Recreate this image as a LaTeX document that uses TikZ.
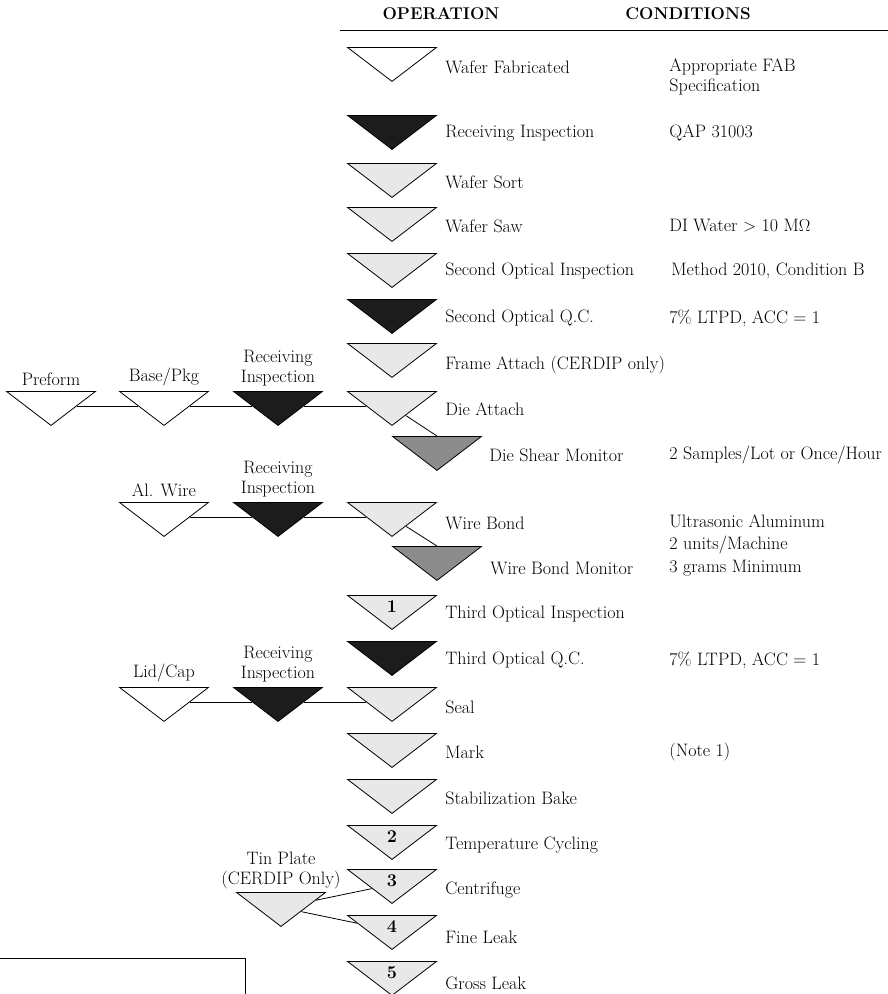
\documentclass[tikz,border=0pt]{standalone}
\usepackage{tikz}
\usetikzlibrary{positioning, shapes.geometric}
\definecolor{stipple}{HTML}{E8E8E8}
\definecolor{shear}{HTML}{8C8C8C}
\definecolor{ink}{HTML}{1C1C1C}

\begin{document}
\begin{tikzpicture}[x=1pt, y=-1pt, line width=0.8pt,
    font=\fontsize{18}{22.5}\selectfont,
    tri/.style={draw, isosceles triangle, shape border rotate=270, isosceles triangle stretches,
        minimum width=89pt, minimum height=34pt, inner sep=0pt, anchor=lower side},
    wtri/.style={tri, fill=white},
    ltri/.style={tri, fill=stipple},
    dtri/.style={tri, fill=ink},
    mtri/.style={tri, fill=shear},
    op/.style={anchor=west, align=left, inner sep=0pt},
    cond/.style={anchor=west, align=left, inner sep=0pt},
    head/.style={font=\fontsize{17}{21}\selectfont\bfseries, inner sep=0pt},
    side/.style={align=center, inner sep=0pt, font=\fontsize{18}{20}\selectfont},
    num/.style={font=\fontsize{18}{21}\selectfont\bfseries, inner sep=0pt}]
\useasboundingbox (0,0) rectangle (888,994);

% Header
\node[head] (ophead) at (441,14) {OPERATION};
\node[head] (cdhead) at (688,14) {CONDITIONS};
\coordinate (hl) at (340,30);
\coordinate (hr) at (888,30);
\draw (hl) -- (hr);

% Main column
\node[wtri] (wf) at (392,47) {};
\node[dtri] (ri) at (392,115) {};
\node[ltri] (ws) at (392,163) {};
\node[ltri] (wsaw) at (392,207) {};
\node[ltri] (soi) at (392,253) {};
\node[dtri] (soq) at (392,299) {};
\node[ltri] (fa) at (392,343) {};
\node[ltri] (da) at (392,391) {};
\node[mtri] (dsm) at (437,436) {};
\node[ltri] (wb) at (392,502) {};
\node[mtri] (wbm) at (437,546) {};
\node[ltri] (toi) at (392,595) {};
\node[dtri] (toq) at (392,641) {};
\node[ltri] (seal) at (392,687) {};
\node[ltri] (mark) at (392,733) {};
\node[ltri] (sb) at (392,779) {};
\node[ltri] (tc) at (392,825) {};
\node[ltri] (cf) at (392,869) {};
\node[ltri] (fl) at (392,915) {};
\node[ltri] (gl) at (392,961) {};

% Step numbers
\node[num, below=5pt of toi.lower side] (n1) {1};
\node[num, below=5pt of tc.lower side] (n2) {2};
\node[num, below=5pt of cf.lower side] (n3) {3};
\node[num, below=5pt of fl.lower side] (n4) {4};
\node[num, below=5pt of gl.lower side] (n5) {5};

% Operations
\node[op] (wfl) at (445,67) {Wafer Fabricated};
\node[op] (ril) at (445,133) {Receiving Inspection};
\node[op] (wsl) at (445,182) {Wafer Sort};
\node[op] (wsawl) at (445,226) {Wafer Saw};
\node[op] (soil) at (445,271) {Second Optical Inspection};
\node[op] (soql) at (445,318) {Second Optical Q.C.};
\node[op] (fal) at (445,365) {Frame Attach (CERDIP only)};
\node[op] (dal) at (445,409) {Die Attach};
\node[op] (dsml) at (489,455) {Die Shear Monitor};
\node[op] (wbl) at (445,523) {Wire Bond};
\node[op] (wbml) at (490,568) {Wire Bond Monitor};
\node[op] (toil) at (445,614) {Third Optical Inspection};
\node[op] (toql) at (445,660) {Third Optical Q.C.};
\node[op] (seall) at (445,707) {Seal};
\node[op] (markl) at (445,752) {Mark};
\node[op] (sbl) at (445,798) {Stabilization Bake};
\node[op] (tcl) at (445,845) {Temperature Cycling};
\node[op] (cfl) at (445,890) {Centrifuge};
\node[op] (fll) at (445,937) {Fine Leak};
\node[op] (gll) at (445,983) {Gross Leak};

% Conditions
\node[cond, font=\fontsize{18}{20}\selectfont] (c1) at (669,77) {Appropriate FAB\\Specification};
\node[cond] (c2) at (669,133) {QAP 31003};
\node[cond] (c3) at (669,226) {DI Water $>$ 10 M$\Omega$};
\node[cond] (c4) at (671,271) {Method 2010, Condition B};
\node[cond] (c5) at (669,318) {7\% LTPD, ACC = 1};
\node[cond] (c6) at (669,455) {2 Samples/Lot or Once/Hour};
\node[cond] (c7) at (669,545) {Ultrasonic Aluminum\\2 units/Machine\\3 grams Minimum};
\node[cond] (c8) at (669,660) {7\% LTPD, ACC = 1};
\node[cond] (c9) at (669,752) {(Note 1)};

% Die attach feed
\node[wtri] (pre) at (51,391) {};
\node[wtri] (bpk) at (164,391) {};
\node[dtri] (rid) at (278,391) {};
\node[side, above=5pt of pre.lower side] (prel) {Preform};
\node[side, above=5pt of bpk.lower side] (bpkl) {Base/Pkg};
\node[side, above=5pt of rid.lower side] (ridl) {Receiving\\Inspection};

% Wire bond feed
\node[wtri] (alw) at (164,502) {};
\node[dtri] (riw) at (278,502) {};
\node[side, above=5pt of alw.lower side] (alwl) {Al. Wire};
\node[side, above=5pt of riw.lower side] (riwl) {Receiving\\Inspection};

% Seal feed
\node[wtri] (lid) at (164,687) {};
\node[dtri] (rls) at (278,687) {};
\node[side, above=5pt of lid.lower side] (lidl) {Lid/Cap};
\node[side, above=5pt of rls.lower side] (rlsl) {Receiving\\Inspection};

% Tin plate feed
\node[ltri] (tin) at (281,892) {};
\node[side, above=3pt of tin.lower side] (tinl) {Tin Plate\\(CERDIP Only)};

% Connections
\draw (pre) -- (bpk);
\draw (bpk) -- (rid);
\draw (rid) -- (da);
\draw (da) -- (dsm.lower side);
\draw (alw) -- (riw);
\draw (riw) -- (wb);
\draw (wb) -- (wbm.lower side);
\draw (lid) -- (rls);
\draw (rls) -- (seal);
\draw (tin) -- (cf);
\draw (tin) -- (fl);

% Partial box at lower left
\coordinate (bx1) at (0,958);
\coordinate (bx2) at (245,958);
\coordinate (bx3) at (245,994);
\draw (bx1) -- (bx2) -- (bx3);
\end{tikzpicture}
\end{document}
